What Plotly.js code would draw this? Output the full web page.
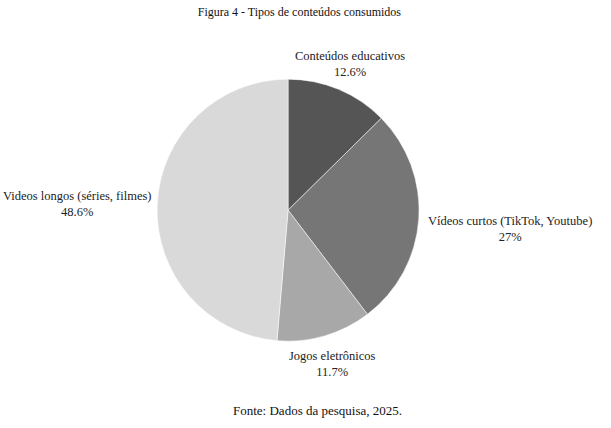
<!DOCTYPE html>
<html><head><meta charset="utf-8">
<script src="https://cdn.plot.ly/plotly-3.0.1.min.js"></script>
<style>html,body{margin:0;padding:0;background:#fff}</style>
</head><body><div id="chart" style="width:611px;height:428px"></div>
<script>
var categories = ["Conteúdos educativos", "Vídeos curtos (TikTok, Youtube)", "Jogos eletrônicos", "Videos longos (séries, filmes)"];
var values = [12.6, 27, 11.7, 48.6];
var colors = ["#555555", "#767676", "#a8a8a8", "#d9d9d9"];
// label anchor positions (paper fractions) for each category's text
var labelX = [0.573, 0.835, 0.545, 0.127];
var labelY = [0.850, 0.465, 0.150, 0.523];

var trace = {
  type: "pie",
  labels: categories,
  values: values,
  sort: false,
  direction: "clockwise",
  rotation: 0,
  marker: {colors: colors, line: {color: "#ffffff", width: 0.5}},
  textinfo: "none",
  hoverinfo: "none",
  domain: {x: [0.257, 0.686], y: [0.203, 0.815]},
  showlegend: false
};
var ann = categories.map(function (c, i) {
  return {text: c + "<br>" + values[i] + "%", xref: "paper", yref: "paper",
    x: labelX[i], y: labelY[i], xanchor: "center", yanchor: "middle", showarrow: false,
    align: "center", font: {family: "Liberation Serif", size: 12.5, color: "#222"}};
});
ann.push({text: "Fonte: Dados da pesquisa, 2025.", xref: "paper", yref: "paper", x: 0.519, y: 0.04,
  xanchor: "center", yanchor: "middle", showarrow: false,
  font: {family: "Liberation Serif", size: 13, color: "#111"}});
var layout = {
  width: 611, height: 428,
  margin: {l: 0, r: 0, t: 0, b: 0},
  paper_bgcolor: "#fff",
  font: {family: "Liberation Serif", size: 12, color: "#222"},
  title: {text: "Figura 4 - Tipos de conteúdos consumidos", x: 0.49, xanchor: "center", y: 0.972, yanchor: "middle", font: {family: "Liberation Serif", size: 12, color: "#111"}},
  annotations: ann
};
Plotly.newPlot("chart", [trace], layout, {staticPlot: true});
</script></body></html>
